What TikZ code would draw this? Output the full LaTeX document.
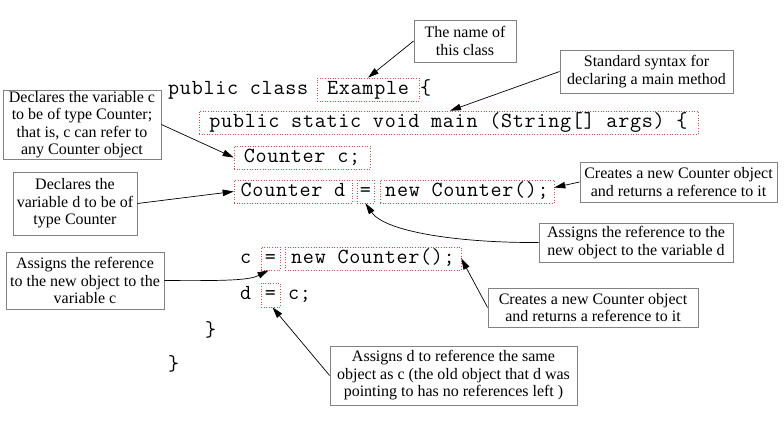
\documentclass[tikz,border=0pt]{standalone}
\usepackage{fontspec}
\setmainfont{Liberation Serif}
\newfontfamily\codefont[LetterSpace=3.3]{Latin Modern Mono}
\usetikzlibrary{arrows.meta,calc}
\definecolor{dotred}{RGB}{225,70,70}
\definecolor{boxgray}{RGB}{130,130,130}
\begin{document}
\begin{tikzpicture}[x=1pt,y=-1pt,
  code/.style={font=\codefont\fontsize{21.5}{24}\selectfont, inner sep=0pt, text height=13pt, text depth=4pt, anchor=west},
  cbox/.style={code, anchor=center, draw=dotred, dotted, line width=0.6pt, minimum height=23pt},
  note/.style={draw=boxgray, line width=0.8pt, align=center, inner sep=0pt, font=\fontsize{16}{17.5}\selectfont},
  arr/.style={-{Triangle[length=11pt,width=6.5pt]}, line width=0.7pt, black}]
\useasboundingbox (0,0) rectangle (784,437);
\fill[white] (0,0) rectangle (784,437);
% code
\node[code] (pc) at (168,89.5) {public class};
\node[cbox, minimum width=102pt] (ex) at (368,89.5) {Example};
\node[code] (ob1) at (420,89.5) {\{};
\node[cbox, minimum width=499pt] (mn) at (448.5,122.5) {public static void main (String[] args) \{};
\node[cbox, minimum width=136pt] (cc) at (302,157.5) {Counter c;};
\node[cbox, minimum width=118pt] (cd) at (293,191.5) {Counter d};
\node[cbox, minimum width=17pt] (eqa) at (365.5,191.5) {=};
\node[cbox, minimum width=174pt] (nwa) at (467,191.5) {new Counter();};
\node[code] (vc) at (240,258.5) {c};
\node[cbox, minimum width=19pt] (eqb) at (270.5,258.5) {=};
\node[cbox, minimum width=176pt] (nwb) at (373,258.5) {new Counter();};
\node[code] (vd) at (240,295) {d};
\node[cbox, minimum width=19pt, minimum height=24pt] (eqc) at (270.5,295) {=};
\node[code] (vcc) at (288,295) {c;};
\node[code] (cl1) at (205,331.5) {\}};
\node[code] (cl2) at (168,366) {\}};
% notes
\node[note, minimum width=102pt, minimum height=42pt] (n1) at (465,41) {The name of\\this class};
\node[note, minimum width=173pt, minimum height=43pt] (n2) at (646.5,71.5) {Standard syntax for\\declaring a main method};
\node[note, minimum width=158pt, minimum height=69pt] (n3) at (82,124.5) {Declares the variable c\\to be of type Counter;\\that is, c can refer to\\any Counter object};
\node[note, minimum width=124pt, minimum height=63pt] (n4) at (75,203.5) {Declares the\\variable d to be of\\type Counter};
\node[note, minimum width=158pt, minimum height=57pt] (n5) at (85,280.5) {Assigns the reference\\to the new object to the\\variable c};
\node[note, minimum width=197pt, minimum height=40pt] (n6) at (678.5,182) {Creates a new Counter object\\and returns a reference to it};
\node[note, minimum width=194pt, minimum height=39pt] (n7) at (636,242.5) {Assigns the reference to the\\new object to the variable d};
\node[note, minimum width=210pt, minimum height=39pt] (n8) at (593,307.5) {Creates a new Counter object\\and returns a reference to it};
\node[note, minimum width=247pt, minimum height=59pt] (n9) at (453.5,375.5) {Assigns d to reference the same\\object as c (the old object that d was\\pointing to has no references left )};
% arrows
\draw[arr] (n1.west) -- (ex.north);
\draw[arr] (n2.west) -- ([xshift=1.5pt]mn.north);
\draw[arr] (n3.east) -- (cc.west);
\draw[arr] (n4.east) -- (cd.west);
\draw[arr] (n5.east) .. controls (230,281) and (250,280) .. ([xshift=-2pt]eqb.south);
\draw[arr] (n6.west) -- ($(nwa.east)+(0,-4)$);
\draw[arr] (n7.west) .. controls (460,243) and (385,232) .. (eqa.south);
\draw[arr] (n8.west) -- (nwb.east);
\draw[arr] (n9.west) -- ([xshift=2pt]eqc.south);
\end{tikzpicture}
\end{document}
